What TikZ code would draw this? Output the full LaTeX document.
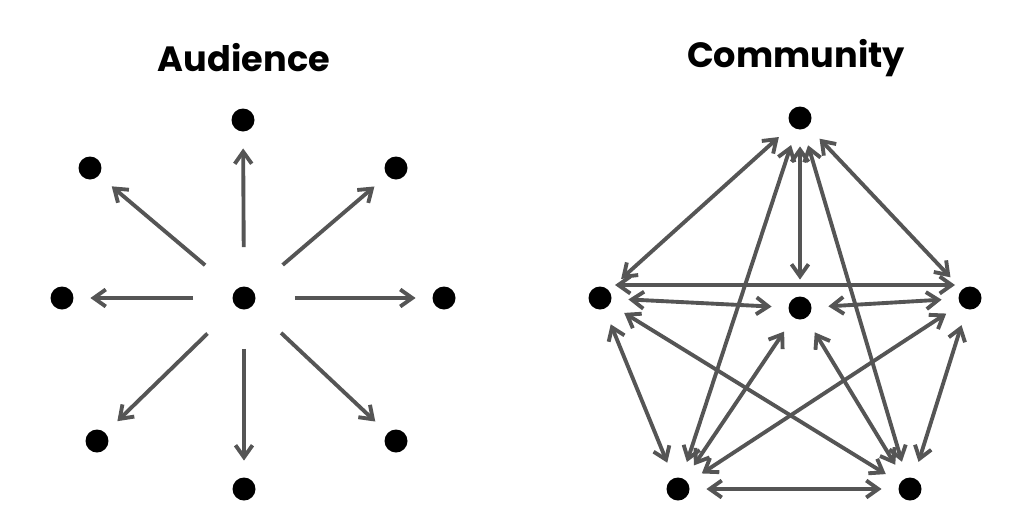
\documentclass[tikz,border=0pt]{standalone}
\usepackage{fontspec}
\setmainfont{Poppins}
\usetikzlibrary{arrows.meta}
\definecolor{edge_gray}{RGB}{85,85,85}

\begin{document}
\begin{tikzpicture}[<->,line width=2.2pt,>={Straight Barb[length=2.4mm,width=3.4mm]},x=0.02cm,y=-0.02cm]
    \tikzstyle{dot}=[circle, fill=black, minimum size=0.46cm, inner sep=0pt]
    \tikzstyle{ttl}=[font=\bfseries\fontsize{20}{24}\selectfont]
    \tikzstyle{ln}=[draw=edge_gray, shorten <=0.3cm, shorten >=0.3cm]
    \useasboundingbox (0,0) rectangle (1024,528);

    % audience
    \node[ttl] (ta) at (244,58) {Audience};
    \node[dot] (c)  at (244,298) {};
    \node[dot] (n)  at (243,120) {};
    \node[dot] (nw) at (90,168)  {};
    \node[dot] (ne) at (396,168) {};
    \node[dot] (w)  at (62,298)  {};
    \node[dot] (e)  at (444,298) {};
    \node[dot] (sw) at (97,441)  {};
    \node[dot] (se) at (396,441) {};
    \node[dot] (s)  at (244,489) {};

    \foreach \t in {n,nw,ne,w,e,sw,se,s}
      \draw[ln, -{Straight Barb[length=2.4mm,width=3.4mm]}, shorten <=0.75cm] (c) -- (\t);

    % community
    \node[ttl] (tc) at (796,58) {Community};
    \node[dot] (a) at (800,118) {};
    \node[dot] (b) at (600,298) {};
    \node[dot] (m) at (800,308) {};
    \node[dot] (d) at (970,298) {};
    \node[dot] (f) at (678,489) {};
    \node[dot] (g) at (910,489) {};

    \path
     (a) edge[ln] (b)
     (a) edge[ln] (m)
     (a) edge[ln] (d)
     (a) edge[ln] (f)
     (a) edge[ln] (g)
     ([yshift=0.26cm]b.center) edge[ln] ([yshift=0.26cm]d.center)
     (b) edge[ln] (m)
     (m) edge[ln] (d)
     (b) edge[ln] (f)
     (b) edge[ln] (g)
     (d) edge[ln] (f)
     (d) edge[ln] (g)
     (m) edge[ln] (f)
     (m) edge[ln] (g)
     (f) edge[ln] (g)
     ;
\end{tikzpicture}
\end{document}
